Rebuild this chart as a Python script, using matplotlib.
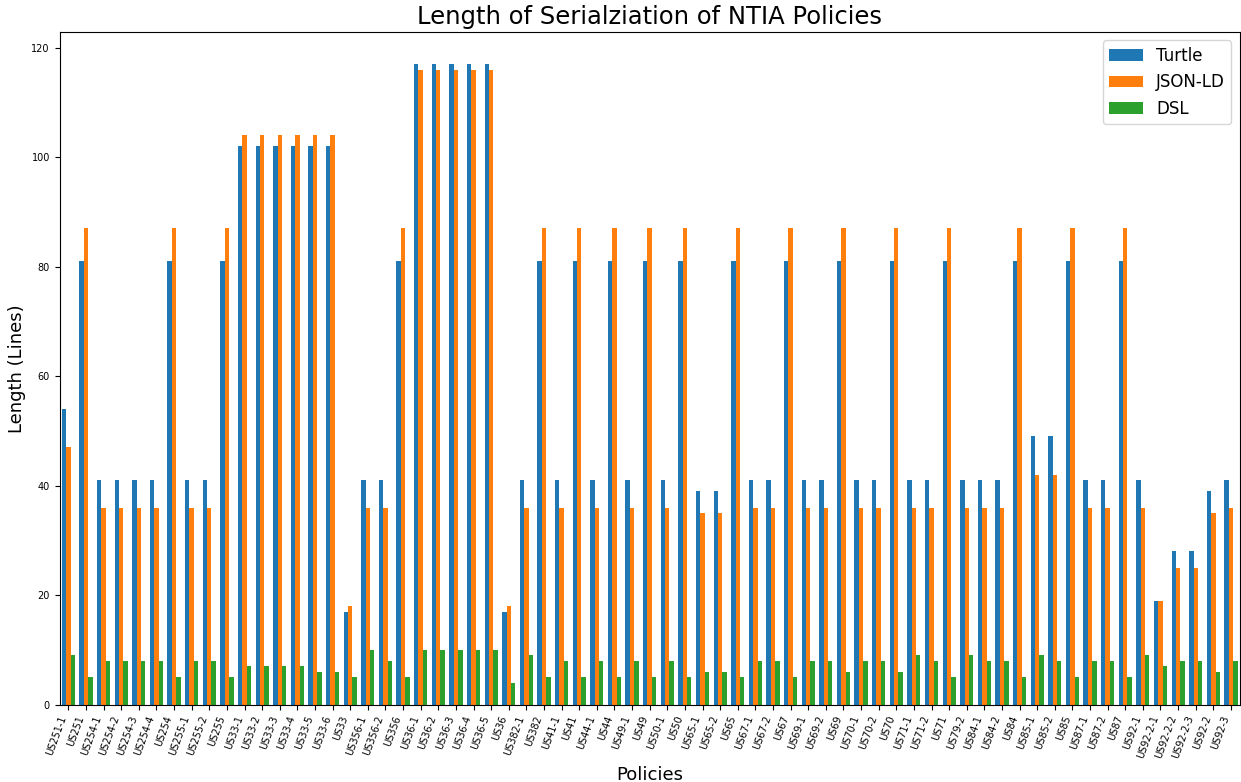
import numpy as np
import matplotlib
matplotlib.use("Agg")
import matplotlib.pyplot as plt

policies = ["US251-1", "US251", "US254-1", "US254-2", "US254-3", "US254-4", "US254",
            "US255-1", "US255-2", "US255", "US33-1", "US33-2", "US33-3", "US33-4",
            "US33-5", "US33-6", "US33", "US356-1", "US356-2", "US356", "US36-1",
            "US36-2", "US36-3", "US36-4", "US36-5", "US36", "US382-1", "US382",
            "US41-1", "US41", "US44-1", "US44", "US49-1", "US49", "US50-1", "US50",
            "US65-1", "US65-2", "US65", "US67-1", "US67-2", "US67", "US69-1", "US69-2",
            "US69", "US70-1", "US70-2", "US70", "US71-1", "US71-2", "US71", "US79-2",
            "US84-1", "US84-2", "US84", "US85-1", "US85-2", "US85", "US87-1", "US87-2",
            "US87", "US92-1", "US92-2-1", "US92-2-2", "US92-2-3", "US92-2", "US92-3"]

turtle = [54, 81, 41, 41, 41, 41, 81, 41, 41, 81, 102, 102, 102, 102, 102, 102, 17,
          41, 41, 81, 117, 117, 117, 117, 117, 17, 41, 81, 41, 81, 41, 81, 41, 81,
          41, 81, 39, 39, 81, 41, 41, 81, 41, 41, 81, 41, 41, 81, 41, 41, 81, 41,
          41, 41, 81, 49, 49, 81, 41, 41, 81, 41, 19, 28, 28, 39, 41]

jsonld = [47, 87, 36, 36, 36, 36, 87, 36, 36, 87, 104, 104, 104, 104, 104, 104, 18,
          36, 36, 87, 116, 116, 116, 116, 116, 18, 36, 87, 36, 87, 36, 87, 36, 87,
          36, 87, 35, 35, 87, 36, 36, 87, 36, 36, 87, 36, 36, 87, 36, 36, 87, 36,
          36, 36, 87, 42, 42, 87, 36, 36, 87, 36, 19, 25, 25, 35, 36]

dsl = [9, 5, 8, 8, 8, 8, 5, 8, 8, 5, 7, 7, 7, 7, 6, 6, 5,
       10, 8, 5, 10, 10, 10, 10, 10, 4, 9, 5, 8, 5, 8, 5, 8, 5,
       8, 5, 6, 6, 5, 8, 8, 5, 8, 8, 6, 8, 8, 6, 9, 8, 5, 9,
       8, 8, 5, 9, 8, 5, 8, 8, 5, 9, 7, 8, 8, 6, 8]

x = np.arange(len(policies))
w = 0.25

fig, ax = plt.subplots(figsize=(12.41, 7.82), dpi=100)
plt.subplots_adjust(left=0.048, right=0.999, top=0.959, bottom=0.099)

ax.bar(x - w, turtle, w, label="Turtle", color="#1f77b4")
ax.bar(x, jsonld, w, label="JSON-LD", color="#ff7f0e")
ax.bar(x + w, dsl, w, label="DSL", color="#2ca02c")

ax.set_xlim(-0.5, len(policies) - 0.5)
ax.set_xticks(x)
ax.set_xticklabels(policies, rotation=70, ha="right", fontsize=7)
ax.tick_params(axis="y", labelsize=7)
ax.set_title("Length of Serialziation of NTIA Policies", fontsize=17.5)
ax.set_xlabel("Policies", fontsize=13)
ax.set_ylabel("Length (Lines)", fontsize=13)
ax.legend(fontsize=12)

fig.savefig("out.png", dpi=100)
